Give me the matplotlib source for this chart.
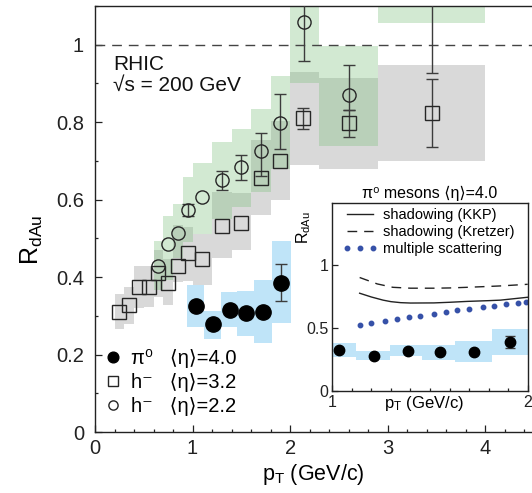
import numpy as np
import matplotlib
matplotlib.use("Agg")
import matplotlib.pyplot as plt
from matplotlib.ticker import MultipleLocator

plt.rcParams['font.family'] = ['Liberation Sans', 'DejaVu Sans']
plt.rcParams['mathtext.fontset'] = 'custom'
plt.rcParams['mathtext.rm'] = 'Liberation Sans'
plt.rcParams['mathtext.it'] = 'Liberation Sans:italic'
plt.rcParams['mathtext.bf'] = 'Liberation Sans:bold'

# ---------------- data ----------------
# pi0, <eta>=4.0
pi0_pt = [1.036, 1.213, 1.385, 1.549, 1.727, 1.908]
pi0_r = [0.325, 0.278, 0.314, 0.306, 0.310, 0.385]
pi0_err_lo = [0.0, 0.0, 0.0, 0.0, 0.0, 0.047]
pi0_err_hi = [0.0, 0.0, 0.0, 0.0, 0.0, 0.048]
pi0_box_xlo = [0.94, 1.12, 1.295, 1.46, 1.63, 1.815]
pi0_box_xhi = [1.12, 1.295, 1.46, 1.63, 1.815, 2.01]
pi0_box_ylo = [0.270, 0.241, 0.272, 0.247, 0.230, 0.282]
pi0_box_yhi = [0.379, 0.312, 0.362, 0.364, 0.392, 0.493]

# h-, <eta>=3.2
h32_pt = [0.25, 0.35, 0.45, 0.55, 0.65, 0.75, 0.85, 0.95, 1.10, 1.30, 1.50, 1.70, 1.90, 2.13, 2.60, 3.45]
h32_r = [0.310, 0.327, 0.374, 0.375, 0.410, 0.385, 0.428, 0.463, 0.446, 0.531, 0.539, 0.656, 0.700, 0.810, 0.797, 0.824]
h32_err_lo = [0, 0, 0, 0, 0, 0, 0, 0, 0, 0, 0, 0, 0, 0.028, 0.035, 0.087]
h32_err_hi = [0, 0, 0, 0, 0, 0, 0, 0, 0, 0, 0, 0, 0, 0.027, 0.035, 0.087]
h32_box_xlo = [0.20, 0.30, 0.40, 0.50, 0.60, 0.70, 0.80, 0.90, 1.00, 1.20, 1.40, 1.60, 1.80, 2.00, 2.30, 2.90]
h32_box_xhi = [0.30, 0.40, 0.50, 0.60, 0.70, 0.80, 0.90, 1.00, 1.20, 1.40, 1.60, 1.80, 2.00, 2.30, 2.90, 4.00]
h32_box_ylo = [0.265, 0.280, 0.319, 0.323, 0.349, 0.327, 0.387, 0.390, 0.380, 0.450, 0.470, 0.560, 0.598, 0.690, 0.678, 0.700]
h32_box_yhi = [0.357, 0.375, 0.428, 0.428, 0.469, 0.447, 0.534, 0.530, 0.510, 0.620, 0.617, 0.753, 0.804, 0.930, 0.915, 0.948]

# h-, <eta>=2.2
h22_pt = [0.65, 0.75, 0.85, 0.95, 1.10, 1.30, 1.50, 1.70, 1.90, 2.14, 2.60, 3.45]
h22_r = [0.428, 0.486, 0.513, 0.573, 0.606, 0.651, 0.685, 0.725, 0.798, 1.059, 0.869, 1.300]
h22_err_lo = [0, 0, 0, 0.016, 0, 0.025, 0.034, 0.065, 0.067, 0.100, 0.037, 0.373]
h22_err_hi = [0, 0, 0, 0.015, 0, 0.023, 0.031, 0.048, 0.075, 0.100, 0.079, 0.200]
h22_box_xlo = [0.60, 0.70, 0.80, 0.90, 1.00, 1.20, 1.40, 1.60, 1.80, 2.00, 2.30, 2.90]
h22_box_xhi = [0.70, 0.80, 0.90, 1.00, 1.20, 1.40, 1.60, 1.80, 2.00, 2.30, 2.90, 4.00]
h22_box_ylo = [0.366, 0.392, 0.450, 0.490, 0.510, 0.550, 0.580, 0.620, 0.680, 0.900, 0.738, 1.055]
h22_box_yhi = [0.493, 0.557, 0.589, 0.658, 0.695, 0.748, 0.782, 0.834, 0.920, 1.200, 0.997, 1.600]

legend_labels = ["π⁰   ⟨η⟩=4.0", "h⁻   ⟨η⟩=3.2", "h⁻   ⟨η⟩=2.2"]

# inset theory curves
kkp_pt = [1.14, 1.20, 1.26, 1.30, 1.35, 1.40, 1.52, 1.60, 1.69, 1.80, 1.86, 2.00]
kkp_r = [0.775, 0.745, 0.720, 0.708, 0.700, 0.697, 0.698, 0.703, 0.710, 0.716, 0.720, 0.743]
kretzer_pt = [1.14, 1.23, 1.31, 1.40, 1.52, 1.60, 1.69, 1.80, 1.86, 2.00]
kretzer_r = [0.900, 0.849, 0.822, 0.815, 0.815, 0.817, 0.822, 0.829, 0.833, 0.846]
ms_pt = [1.14, 1.20, 1.27, 1.33, 1.39, 1.45, 1.52, 1.58, 1.64, 1.70, 1.77, 1.83, 1.89, 1.95, 1.99]
ms_r = [0.520, 0.536, 0.554, 0.570, 0.586, 0.597, 0.610, 0.626, 0.642, 0.652, 0.663, 0.676, 0.687, 0.695, 0.705]
inset_labels = ["shadowing (KKP)", "shadowing (Kretzer)", "multiple scattering"]

# ---------------- styles ----------------
GRAY = '#d9d9d9'
GREEN = (0.47, 0.75, 0.47, 0.33)
BLUE = '#bfe4f8'
INK = '#262626'
ERR = '#3c3c3c'

W, H = 532, 493
fig = plt.figure(figsize=(W / 100, H / 100), dpi=100)
ax = fig.add_axes([95 / W, 61 / H, 437 / W, 426 / H])


def boxes(a, xlo, xhi, ylo, yhi, color, z=1):
    xlo, xhi, ylo, yhi = map(np.asarray, (xlo, xhi, ylo, yhi))
    a.bar(xlo, yhi - ylo, width=xhi - xlo, bottom=ylo, align='edge',
          color=color, edgecolor='none', linewidth=0, zorder=z)


def errs(a, x, y, lo, hi, cap=4.5, lw=1.0):
    x, y, lo, hi = map(np.asarray, (x, y, lo, hi))
    m = (lo > 0) | (hi > 0)
    a.errorbar(x[m], y[m], yerr=[lo[m], hi[m]], fmt='none', ecolor=ERR,
               elinewidth=lw, capsize=cap, capthick=lw, zorder=3)


boxes(ax, h32_box_xlo, h32_box_xhi, h32_box_ylo, h32_box_yhi, GRAY, 1)
boxes(ax, h22_box_xlo, h22_box_xhi, h22_box_ylo, h22_box_yhi, GREEN, 1.1)
boxes(ax, pi0_box_xlo, pi0_box_xhi, pi0_box_ylo, pi0_box_yhi, BLUE, 1)

ax.axhline(1.0, color='#444444', lw=1.0, ls=(0, (7, 5)), zorder=2)

errs(ax, pi0_pt, pi0_r, pi0_err_lo, pi0_err_hi)
errs(ax, h32_pt, h32_r, h32_err_lo, h32_err_hi)
errs(ax, h22_pt, h22_r, h22_err_lo, h22_err_hi)

h_pi0, = ax.plot(pi0_pt, pi0_r, 'o', ms=11, color='black', ls='none', zorder=4)
h_h32, = ax.plot(h32_pt, h32_r, 's', ms=9.5, mfc='none', mec=INK, mew=1.0, ls='none', zorder=4)
h_h22, = ax.plot(h22_pt, h22_r, 'o', ms=9.5, mfc='none', mec=INK, mew=1.0, ls='none', zorder=4)

ax.set_xlim(0, 4.48)
ax.set_ylim(0, 1.1)
ax.xaxis.set_major_locator(MultipleLocator(1))
ax.xaxis.set_minor_locator(MultipleLocator(0.2))
ax.yaxis.set_major_locator(MultipleLocator(0.2))
ax.yaxis.set_minor_locator(MultipleLocator(0.1))
ax.set_yticks([0, 0.2, 0.4, 0.6, 0.8, 1.0])
ax.set_yticklabels(['0', '0.2', '0.4', '0.6', '0.8', '1'])
ax.tick_params(which='both', direction='in', top=False, right=False,
               labelsize=14.5, width=0.9, colors='#222222')
ax.tick_params(axis='x', which='major', length=5, pad=5)
ax.tick_params(axis='y', which='major', length=5, pad=8)
ax.tick_params(which='minor', length=2.5)
for s in ['top', 'left', 'bottom']:
    ax.spines[s].set_linewidth(1.0)
    ax.spines[s].set_color('#222222')
ax.spines['right'].set_visible(False)

ax.set_ylabel('R$_{\\mathrm{dAu}}$', fontsize=18)
ax.yaxis.set_label_coords(-0.115, 0.45)
ax.set_xlabel('p$_{\\mathrm{T}}$ (GeV/c)', fontsize=15.5)
ax.xaxis.set_label_coords(0.5, -0.07)

ax.text(0.041, 0.885, 'RHIC\n√s = 200 GeV', transform=ax.transAxes,
        fontsize=15, va='top', ha='left', linespacing=1.15, color='#111111')

leg = ax.legend([h_pi0, h_h32, h_h22], legend_labels, loc='lower left',
                bbox_to_anchor=(-0.005, 0.005), frameon=False, fontsize=14.5,
                handlelength=0.6, handletextpad=0.6, labelspacing=0.25,
                markerscale=0.7, borderaxespad=0.3)

# ---------------- inset ----------------
ax2 = fig.add_axes([332.3 / W, (H - 390.7) / H, 195.4 / W, 187.4 / H])
ax2.set_facecolor('white')
boxes(ax2, pi0_box_xlo, pi0_box_xhi, pi0_box_ylo, pi0_box_yhi, BLUE, 1)
errs(ax2, pi0_pt, pi0_r, pi0_err_lo, pi0_err_hi, cap=3.5)
ax2.plot(pi0_pt, pi0_r, 'o', ms=7.5, color='black', ls='none', zorder=4)
l1, = ax2.plot(kkp_pt, kkp_r, '-', color='#222222', lw=1.0)
l2, = ax2.plot(kretzer_pt, kretzer_r, color='#222222', lw=1.0, ls=(0, (7, 5)))
l3, = ax2.plot(ms_pt, ms_r, 'o', ms=3.2, color='#3651a8', ls='none')
ax2.set_xlim(1, 2)
ax2.set_ylim(0, 1.49)
ax2.xaxis.set_major_locator(MultipleLocator(1))
ax2.xaxis.set_minor_locator(MultipleLocator(0.1))
ax2.set_yticks([0, 0.5, 1.0])
ax2.set_yticklabels(['0', '0.5', '1'])
ax2.tick_params(which='both', direction='in', top=False, right=False,
                labelsize=11.5, width=0.9, colors='#222222')
ax2.tick_params(which='major', length=4.5, pad=3)
ax2.tick_params(which='minor', length=2.5)
for s in ax2.spines.values():
    s.set_linewidth(1.0)
    s.set_color('#222222')
ax2.set_title('π⁰ mesons ⟨η⟩=4.0', fontsize=11.5, pad=4)
ax2.set_ylabel('R$_{\\mathrm{dAu}}$', fontsize=11.5)
ax2.yaxis.set_label_coords(-0.10, 0.87)
ax2.set_xlabel('p$_{\\mathrm{T}}$ (GeV/c)', fontsize=12)
ax2.xaxis.set_label_coords(0.47, -0.015)
ax2.legend([l1, l2, l3], inset_labels, loc='upper left', bbox_to_anchor=(0.0, 1.03),
           frameon=False, fontsize=10.5, handlelength=2.4, handletextpad=0.4,
           labelspacing=0.2, numpoints=3, borderaxespad=0.3)

fig.savefig('out.png', dpi=100)
